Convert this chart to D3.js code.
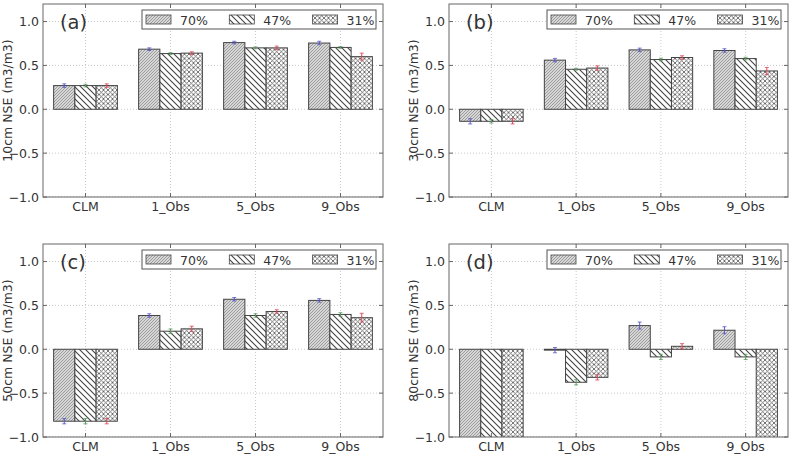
<!DOCTYPE html>
<html><head><meta charset="utf-8">
<script src="https://cdn.jsdelivr.net/npm/d3@7"></script>
<style>body{margin:0;background:#fff}svg{display:block}text{font-family:"DejaVu Sans",sans-serif;fill:#333}</style>
</head><body>
<svg id="c" width="793" height="460"></svg>
<script>
const categories = ["CLM","1_Obs","5_Obs","9_Obs"];
const seriesNames = ["70%","47%","31%"];
const yTicks = [-1.0,-0.5,0.0,0.5,1.0];
const panelLabels = ["(a)","(b)","(c)","(d)"];
const yLabels = ["10cm NSE (m3/m3)","30cm NSE (m3/m3)","50cm NSE (m3/m3)","80cm NSE (m3/m3)"];
// values[panel][series][category]
const valuesA = [[0.27,0.685,0.76,0.755],[0.27,0.635,0.70,0.705],[0.27,0.64,0.70,0.60]];
const valuesB = [[-0.137,0.56,0.677,0.67],[-0.137,0.456,0.567,0.578],[-0.137,0.47,0.59,0.437]];
const valuesC = [[-0.82,0.385,0.57,0.557],[-0.82,0.206,0.385,0.397],[-0.82,0.233,0.43,0.36]];
const valuesD = [[-1.5,-0.01,0.27,0.217],[-1.5,-0.376,-0.087,-0.087],[-1.5,-0.32,0.034,-1.5]];
const errorsA = [[0.02,0.015,0.015,0.02],[0.015,0.01,0.01,0.01],[0.02,0.015,0.02,0.04]];
const errorsB = [[0.03,0.02,0.02,0.02],[0.02,0.01,0.015,0.015],[0.03,0.025,0.02,0.04]];
const errorsC = [[0.03,0.02,0.02,0.02],[0.03,0.025,0.02,0.02],[0.03,0.03,0.02,0.05]];
const errorsD = [[0,0.03,0.04,0.04],[0,0.03,0.03,0.03],[0,0.03,0.03,0]];
const allValues = [valuesA,valuesB,valuesC,valuesD];
const allErrors = [errorsA,errorsB,errorsC,errorsD];
const errColors = ["#5555cc","#55995a","#dd4455"];

const svg = d3.select("#c");
const defs = svg.append("defs");
function pat(id, bg, size, lines, sw, col){
  const p = defs.append("pattern").attr("id",id).attr("patternUnits","userSpaceOnUse")
    .attr("width",size).attr("height",size);
  p.append("rect").attr("width",size).attr("height",size).attr("fill",bg);
  lines.forEach(d=>p.append("path").attr("d",d).attr("stroke",col).attr("stroke-width",sw).attr("fill","none"));
}
pat("p0","#d6d6d6",3,["M-1,1 L1,-1 M0,3 L3,0 M2,4 L4,2"],0.6,"#777");
pat("p1","#fff",6,["M-1,5 L1,7 M0,0 L6,6 M5,-1 L7,1"],1.1,"#444");
pat("p2","#fff",4.5,["M0,0 L4.5,4.5 M0,4.5 L4.5,0"],0.8,"#555");
const fills = ["url(#p0)","url(#p1)","url(#p2)"];

const panels = [
  {x0:43,x1:383,y0:4,y1:197},
  {x0:449,x1:788,y0:4,y1:197},
  {x0:43,x1:383,y0:244,y1:437},
  {x0:449,x1:788,y0:244,y1:437}
];

panels.forEach((P,pi)=>{
  const g = svg.append("g");
  const x = d3.scaleBand().domain(categories).range([P.x0,P.x1]).paddingInner(0.25).paddingOuter(0.125);
  const xs = d3.scaleBand().domain(seriesNames).range([0,x.bandwidth()]);
  const y = d3.scaleLinear().domain([-1,1.2]).range([P.y1,P.y0]);
  const cid = "clip"+pi;
  defs.append("clipPath").attr("id",cid).append("rect")
    .attr("x",P.x0).attr("y",P.y0).attr("width",P.x1-P.x0).attr("height",P.y1-P.y0);
  g.selectAll(".gy").data(yTicks).enter().append("line")
    .attr("x1",P.x0).attr("x2",P.x1).attr("y1",d=>y(d)).attr("y2",d=>y(d))
    .attr("stroke","#bbb").attr("stroke-width",0.8).attr("stroke-dasharray","1,2");
  g.selectAll(".gx").data(categories).enter().append("line")
    .attr("x1",d=>x(d)+x.bandwidth()/2).attr("x2",d=>x(d)+x.bandwidth()/2).attr("y1",P.y0).attr("y2",P.y1)
    .attr("stroke","#bbb").attr("stroke-width",0.8).attr("stroke-dasharray","1,2");
  const vals = allValues[pi], errs = allErrors[pi];
  const bg = g.append("g").attr("clip-path",`url(#${cid})`);
  seriesNames.forEach((s,si)=>{
    bg.selectAll(".b"+si).data(categories).enter().append("rect")
      .attr("x",c=>x(c)+xs(s)).attr("width",xs.bandwidth())
      .attr("y",(c,ci)=>y(Math.max(0,vals[si][ci])))
      .attr("height",(c,ci)=>Math.abs(y(vals[si][ci])-y(0)))
      .attr("fill",fills[si]).attr("stroke","#444").attr("stroke-width",1);
  });
  seriesNames.forEach((s,si)=>{
    categories.forEach((c,ci)=>{
      const e = errs[si][ci]; if(!e) return;
      const cx = x(c)+xs(s)+xs.bandwidth()/2, v = vals[si][ci];
      bg.append("line").attr("x1",cx).attr("x2",cx).attr("y1",y(v-e)).attr("y2",y(v+e)).attr("stroke",errColors[si]).attr("stroke-width",1);
      [v-e,v+e].forEach(t=>bg.append("line").attr("x1",cx-2).attr("x2",cx+2).attr("y1",y(t)).attr("y2",y(t)).attr("stroke",errColors[si]).attr("stroke-width",0.8));
    });
  });
  g.append("rect").attr("x",P.x0).attr("y",P.y0).attr("width",P.x1-P.x0).attr("height",P.y1-P.y0)
    .attr("fill","none").attr("stroke","#666").attr("stroke-width",1);
  yTicks.forEach(t=>{
    g.append("line").attr("x1",P.x0).attr("x2",P.x0+4).attr("y1",y(t)).attr("y2",y(t)).attr("stroke","#666");
    g.append("line").attr("x1",P.x1-4).attr("x2",P.x1).attr("y1",y(t)).attr("y2",y(t)).attr("stroke","#666");
  });
  categories.forEach(c=>{
    const cx = x(c)+x.bandwidth()/2;
    g.append("line").attr("x1",cx).attr("x2",cx).attr("y1",P.y1-4).attr("y2",P.y1).attr("stroke","#666");
    g.append("line").attr("x1",cx).attr("x2",cx).attr("y1",P.y0).attr("y2",P.y0+4).attr("stroke","#666");
  });
  const ay = d3.axisLeft(y).tickValues(yTicks).tickSize(0).tickPadding(4)
    .tickFormat(d=>d3.format(".1f")(d).replace("-","\u2212"));
  const gy = g.append("g").attr("transform",`translate(${P.x0},0)`).call(ay);
  gy.select(".domain").remove();
  gy.selectAll("text").attr("font-size",12.5).attr("fill","#333").style("font-family","DejaVu Sans");
  const ax = d3.axisBottom(x).tickSize(0).tickPadding(5);
  const gx = g.append("g").attr("transform",`translate(0,${P.y1})`).call(ax);
  gx.select(".domain").remove();
  gx.selectAll("text").attr("font-size",12.5).attr("fill","#333").style("font-family","DejaVu Sans");
  g.append("text").attr("transform",`translate(${P.x0-31},${(P.y0+P.y1)/2}) rotate(-90)`)
    .attr("text-anchor","middle").attr("font-size",12.5).text(yLabels[pi]);
  g.append("text").attr("x",P.x0+17).attr("y",P.y0+25).attr("font-size",19.5).attr("fill","#111").text(panelLabels[pi]);
  const lx = P.x1-241, ly = P.y0+6;
  g.append("rect").attr("x",lx).attr("y",ly).attr("width",234).attr("height",19)
    .attr("fill","#fff").attr("stroke","#555").attr("stroke-width",1);
  seriesNames.forEach((s,si)=>{
    const px = lx+4+si*83.3;
    g.append("rect").attr("x",px).attr("y",ly+5).attr("width",25).attr("height",9)
      .attr("fill",fills[si]).attr("stroke","#444").attr("stroke-width",0.8);
    g.append("text").attr("x",px+34).attr("y",ly+14.5).attr("font-size",12.5).text(s);
  });
});
</script>
</body></html>
